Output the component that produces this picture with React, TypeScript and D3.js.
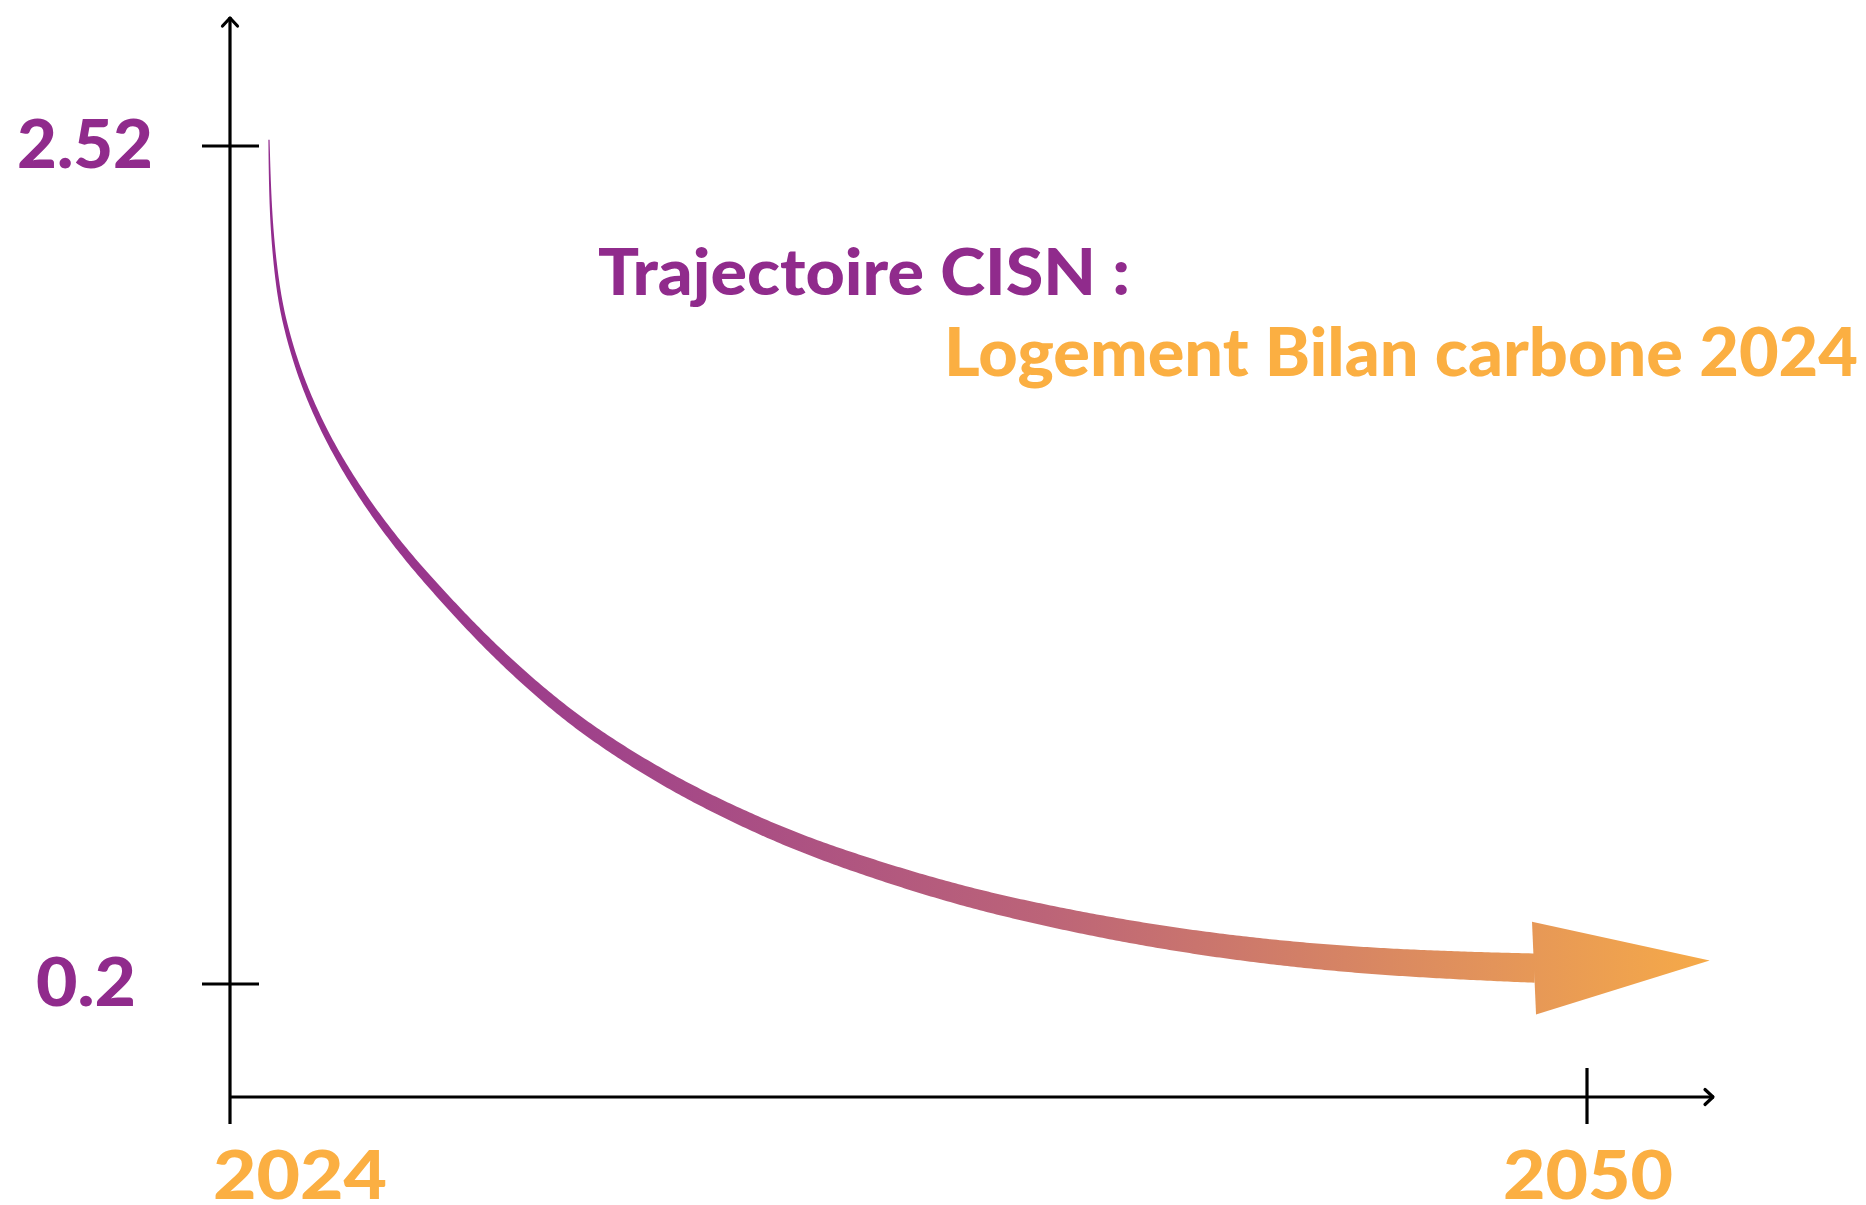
import React, { useLayoutEffect, useRef, useState } from "react";
import * as d3 from "d3";

// trajectory (year, tCO2e)
const years = [2024.747, 2024.768, 2024.826, 2024.941, 2025.081, 2025.265, 2025.506, 2025.859, 2026.295, 2026.809, 2027.407, 2027.962, 2028.621, 2029.254, 2030.131, 2031.089, 2032.373, 2033.637, 2034.921, 2036.205, 2037.469, 2038.753, 2040.669, 2042.585, 2044.501, 2046.417, 2048.333, 2049.004];
const values = [2.537, 2.379, 2.24, 2.102, 2.011, 1.919, 1.825, 1.714, 1.604, 1.493, 1.382, 1.291, 1.188, 1.097, 0.983, 0.878, 0.763, 0.67, 0.589, 0.524, 0.467, 0.417, 0.358, 0.312, 0.279, 0.258, 0.247, 0.244];
const arrowTip = { year: 2052.35, value: 0.265 };

const yTicks = [2.52, 0.2];
const yTickLabels = ["2.52", "0.2"];
const xTicks = [2024, 2050];
const xTickLabels = ["2024", "2050"];

const titleLine1 = "Trajectoire CISN :";
const titleLine2 = "Logement Bilan carbone 2024";

const W = 1866;
const H = 1205;
const PURPLE = "#902B8C";
const ORANGE = "#FBAF42";
const INK = "#000000";

const x = d3.scaleLinear().domain([2024, 2050]).range([230, 1587]);
const y = d3.scaleLinear().domain([0.2, 2.52]).range([984, 146]);

const App = () => {
  const pts = years.map((yr, i) => [x(yr), y(values[i])] as [number, number]);
  // B-spline smooths out the small reading errors in the hand-read points
  const centre = d3.line().curve(d3.curveBasis)(pts) || "";

  const guideRef = useRef<SVGPathElement>(null);
  const [body, setBody] = useState("");

  // sample the centre line and build a tapering ribbon around it
  useLayoutEffect(() => {
    const el = guideRef.current;
    if (!el) return;
    const L = el.getTotalLength();
    const n = 500;
    const samples: [number, number][] = [];
    for (let i = 0; i <= n; i++) {
      const p = el.getPointAtLength((L * i) / n);
      samples.push([p.x, p.y]);
    }
    const upper: [number, number][] = [];
    const lower: [number, number][] = [];
    samples.forEach((p, i) => {
      const a = samples[Math.max(0, i - 2)];
      const b = samples[Math.min(n, i + 2)];
      const dx = b[0] - a[0];
      const dy = b[1] - a[1];
      const len = Math.hypot(dx, dy) || 1;
      const half = (1.2 + 28 * (i / n)) / 2;
      upper.push([p[0] - (dy / len) * half, p[1] + (dx / len) * half]);
      lower.push([p[0] + (dy / len) * half, p[1] - (dx / len) * half]);
    });
    const outline = upper.concat(lower.reverse());
    setBody((d3.line()(outline) || "") + "Z");
  }, [centre]);

  // arrow head
  const end = pts[pts.length - 1];
  const tip: [number, number] = [x(arrowTip.year), y(arrowTip.value)];
  const hdx = tip[0] - end[0];
  const hdy = tip[1] - end[1];
  const hl = Math.hypot(hdx, hdy);
  const hnx = -hdy / hl;
  const hny = hdx / hl;
  const headHalf = 46.5;
  const headPoints = [
    [end[0] - 1 + hnx * headHalf, end[1] + hny * headHalf],
    tip,
    [end[0] - 1 - hnx * headHalf, end[1] - hny * headHalf],
  ].map((p) => p.join(",")).join(" ");

  const axisBottom = 1097;
  const yAxisTop = 16;
  const xAxisRight = 1715;
  const font = "Lato, 'Open Sans', sans-serif";

  return (
    <div style={{ position: "absolute", left: 0, top: 0 }}>
      <svg width={W} height={H} style={{ display: "block", background: "#fff" }}>
        <defs>
          <linearGradient id="traj" gradientUnits="userSpaceOnUse" x1={pts[0][0]} y1={0} x2={tip[0]} y2={0}>
            <stop offset="0" stopColor="#922C8E" />
            <stop offset="0.23" stopColor="#A0438A" />
            <stop offset="0.54" stopColor="#BC6478" />
            <stop offset="0.85" stopColor="#E3945A" />
            <stop offset="1" stopColor="#F6AA48" />
          </linearGradient>
        </defs>

        {/* axes */}
        <g stroke={INK} strokeWidth={3.2} fill="none" strokeLinecap="butt">
          <line x1={x(2024)} y1={1124} x2={x(2024)} y2={yAxisTop + 1} />
          <polyline points={`${x(2024) - 7.5},${yAxisTop + 10} ${x(2024)},${yAxisTop + 2} ${x(2024) + 7.5},${yAxisTop + 10}`} strokeLinejoin="round" strokeLinecap="round" />
          <line x1={x(2024)} y1={axisBottom} x2={xAxisRight - 1} y2={axisBottom} />
          <polyline points={`${xAxisRight - 10},${axisBottom - 7.5} ${xAxisRight - 2},${axisBottom} ${xAxisRight - 10},${axisBottom + 7.5}`} strokeLinejoin="round" strokeLinecap="round" />
          {yTicks.map((t) => (
            <line key={t} x1={x(2024) - 28} x2={x(2024) + 29} y1={y(t)} y2={y(t)} />
          ))}
          {xTicks.slice(1).map((t) => (
            <line key={t} x1={x(t)} x2={x(t)} y1={axisBottom - 29} y2={axisBottom + 27} />
          ))}
        </g>

        {/* tick labels */}
        {yTicks.map((t, i) => (
          <text key={t} x={i === 0 ? 17 : 36} y={y(t) + 22} fontFamily={font} fontWeight={900} fontSize={67} fill={PURPLE}
            textLength={i === 0 ? 136 : 100} lengthAdjust="spacingAndGlyphs">
            {yTickLabels[i]}
          </text>
        ))}
        {xTicks.map((t, i) => (
          <text key={t} x={i === 0 ? 213 : 1503} y={1199} fontFamily={font} fontWeight={900} fontSize={66} fill={ORANGE}
            textLength={i === 0 ? 174 : 170} lengthAdjust="spacingAndGlyphs">
            {xTickLabels[i]}
          </text>
        ))}

        {/* trajectory */}
        <path ref={guideRef} d={centre} fill="none" stroke="none" />
        {body && <path d={body} fill="url(#traj)" />}
        <polygon points={headPoints} fill="url(#traj)" />

        {/* title */}
        <text x={598} y={295} fontFamily={font} fontWeight={900} fontSize={65} fill={PURPLE} textLength={532} lengthAdjust="spacingAndGlyphs">
          {titleLine1}
        </text>
        <text x={944} y={376} fontFamily={font} fontWeight={900} fontSize={66} fill={ORANGE} textLength={914} lengthAdjust="spacingAndGlyphs">
          {titleLine2}
        </text>
      </svg>
    </div>
  );
};

export default App;
